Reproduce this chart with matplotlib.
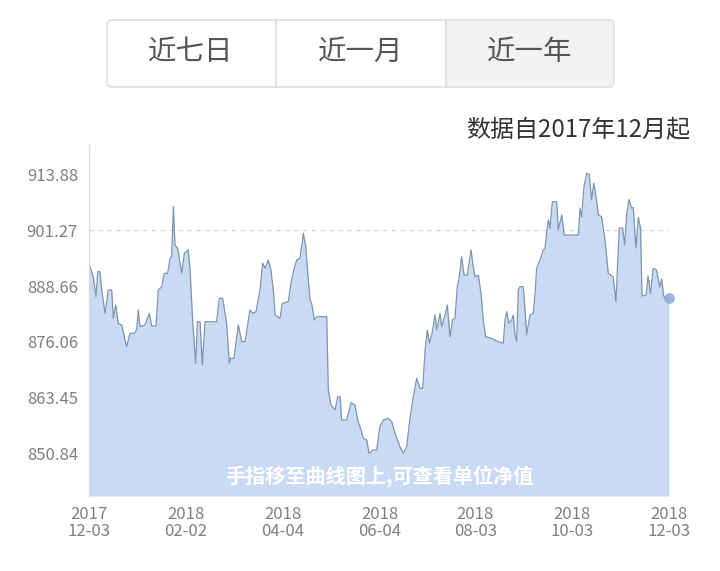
import numpy as np
import pandas as pd
import matplotlib
matplotlib.use("Agg")
import matplotlib.pyplot as plt
import matplotlib.dates as mdates
from matplotlib.patches import FancyBboxPatch, Rectangle

plt.rcParams['font.family'] = ['Noto Sans CJK SC', 'DejaVu Sans']

# ---- data: days since 2017-12-03 and unit NAV ----
start_date = "2017-12-03"
day_offsets = [0, 2.7, 4.4, 5.5, 6.9, 8.0, 10.1, 12.1, 14.3, 15.3, 16.8, 18.4, 20.6, 22.2, 23.7, 25.8,
               28.5, 30.0, 31.0, 32.1, 35.2, 37.9, 39.5, 42.2, 43.6, 45.8, 47.4, 49.5, 51.0, 52.0, 53.1,
               54.1, 55.8, 58.3, 60.0, 62.5, 63.6, 65.3, 67.1, 68.2, 69.9, 71.3, 73.0, 80.3, 82.0, 84.1,
               86.6, 88.3, 89.1, 91.2, 92.5, 94.0, 96.1, 98.2, 101.3, 103.0, 105.1, 107.6, 109.3, 110.8,
               112.8, 114.3, 116.0, 117.1, 120.2, 121.6, 125.4, 127.1, 128.6, 130.7, 132.8, 134.9, 136.4,
               138.0, 139.1, 140.1, 141.8, 143.3, 149.6, 150.6, 152.3, 154.8, 156.5, 158.0, 159.0, 162.2,
               164.9, 167.4, 169.1, 171.2, 172.6, 174.8, 176.2, 178.9, 181.0, 183.1, 185.2, 188.3, 190.5,
               192.6, 195.7, 197.8, 199.9, 202.0, 204.1, 206.2, 208.3, 210.0, 211.5, 212.9, 214.2, 215.7,
               217.8, 218.8, 220.9, 222.0, 224.0, 225.5, 227.2, 228.8, 230.3, 231.8, 233.0, 234.5, 236.0,
               238.1, 240.4, 241.8, 242.9, 245.0, 246.7, 248.1, 249.6, 253.4, 257.6, 260.7, 261.8, 262.9,
               264.3, 266.0, 267.0, 268.1, 269.1, 270.2, 271.2, 273.3, 274.4, 275.4, 277.5, 279.6, 280.7,
               281.7, 283.8, 285.9, 287.0, 288.0, 289.1, 290.1, 291.6, 294.3, 295.3, 297.5, 299.1, 307.9,
               309.0, 310.0, 311.5, 313.2, 314.8, 316.3, 317.6, 319.2, 320.5, 322.6, 324.7, 326.8, 329.9,
               331.6, 333.7, 335.8, 337.1, 338.4, 339.8, 341.5, 342.5, 344.2, 345.7, 347.1, 348.0, 350.6,
               351.8, 353.4, 355.0, 357.2, 359.2, 360.4, 361.6, 362.5, 365.0]
nav = [893.77, 890.75, 886.25, 891.88, 891.88, 887.76, 882.51, 887.76, 887.76, 881.39, 884.38, 880.26,
       879.88, 877.24, 874.99, 878.01, 878.01, 878.75, 883.26, 879.49, 879.88, 882.51, 879.65, 879.65,
       887.76, 888.50, 891.52, 891.52, 894.90, 895.26, 906.52, 897.89, 897.15, 891.52, 896.02, 896.77,
       892.26, 880.26, 871.25, 880.62, 880.62, 870.87, 880.62, 880.62, 885.89, 885.89, 880.26, 871.25,
       872.38, 872.38, 875.76, 879.88, 876.12, 876.12, 883.26, 882.51, 882.87, 887.76, 893.77, 892.65,
       894.51, 892.65, 887.76, 882.13, 881.39, 884.76, 885.12, 889.27, 891.88, 894.51, 894.90, 900.53,
       897.51, 890.01, 885.51, 884.76, 881.00, 881.75, 881.75, 865.24, 861.86, 860.74, 863.73, 863.73,
       858.49, 858.49, 862.38, 861.86, 858.49, 856.23, 854.37, 853.98, 850.99, 851.73, 851.73, 856.98,
       858.49, 858.87, 858.10, 855.49, 852.47, 850.99, 852.47, 858.87, 863.73, 867.88, 865.62, 865.62,
       874.25, 878.75, 875.76, 877.63, 882.13, 878.75, 882.51, 879.49, 882.13, 884.38, 877.24, 881.00,
       881.39, 888.50, 890.75, 895.26, 891.14, 891.14, 896.77, 893.01, 890.75, 891.14, 887.02, 881.00,
       877.24, 876.88, 876.12, 875.76, 881.00, 882.87, 880.26, 881.00, 882.13, 877.63, 876.12, 887.76,
       888.50, 888.50, 883.26, 877.63, 882.13, 882.51, 887.02, 892.65, 894.51, 896.77, 897.15, 900.89,
       903.52, 901.65, 907.64, 907.64, 901.27, 904.65, 900.14, 900.14, 906.16, 904.26, 911.02, 914.04,
       913.74, 908.03, 911.79, 908.59, 904.65, 904.26, 899.02, 891.52, 890.75, 885.12, 901.72, 901.72,
       897.89, 904.87, 908.14, 906.16, 906.34, 897.22, 904.08, 901.61, 886.41, 886.63, 890.91, 886.86,
       892.65, 892.26, 888.44, 890.24, 886.41, 886.18, 885.85]

y_ticks = [850.84, 863.45, 876.06, 888.66, 901.27, 913.88]
x_tick_dates = ["2017-12-03", "2018-02-02", "2018-04-04", "2018-06-04", "2018-08-03", "2018-10-03", "2018-12-03"]
tabs = ["近七日", "近一月", "近一年"]

dates = pd.Timestamp(start_date) + pd.to_timedelta(day_offsets, unit="D")
x_ticks = pd.to_datetime(x_tick_dates)

W, H = 720, 571
fig = plt.figure(figsize=(W / 100, H / 100), dpi=100)

def fx(px):
    return px / W

def fy(py):
    return 1 - py / H

# ---- top segmented buttons ----
box = FancyBboxPatch((fx(107), fy(87)), fx(614) - fx(107), fy(20) - fy(87),
                     boxstyle="round,pad=0,rounding_size=0.008", transform=fig.transFigure,
                     facecolor="white", edgecolor="#dedede", linewidth=1.2)
fig.patches.append(box)
sel = Rectangle((fx(446), fy(86)), fx(613) - fx(446), fy(21) - fy(86), transform=fig.transFigure,
                facecolor="#f2f2f2", edgecolor="none")
fig.patches.append(sel)
for xd in [276, 446]:
    fig.add_artist(plt.Line2D([fx(xd), fx(xd)], [fy(87), fy(20)], transform=fig.transFigure,
                              color="#dedede", linewidth=1.2))
for lab, cx in zip(tabs, [191, 361, 530]):
    fig.text(fx(cx), fy(52), lab, ha="center", va="center", fontsize=20.5, color="#555555")

fig.text(fx(690), fy(130), "数据自2017年12月起", ha="right", va="center", fontsize=17.3, color="#333333")

# ---- chart ----
ax = fig.add_axes([fx(89), fy(496), fx(669) - fx(89), fy(145) - fy(496)])
ymin, ymax = 841.38, 920.41
ax.set_ylim(ymin, ymax)
ax.set_xlim(dates[0], dates[-1])

ax.axhline(901.27, color="#d8d8d8", linewidth=0.8, linestyle=(0, (4, 4)), zorder=0)
ax.fill_between(dates, nav, ymin, color="#c9daf5", linewidth=0, zorder=1)
ax.plot(dates, nav, color="#8095ad", linewidth=0.9, zorder=2)
ax.scatter([dates[-1]], [nav[-1]], s=45, color="#8cacdc", alpha=0.85, zorder=3, clip_on=False)

ax.set_yticks(y_ticks)
ax.set_yticklabels([f"{v:.2f}" for v in y_ticks])
ax.set_xticks(x_ticks)
ax.set_xticklabels([d.strftime("%Y\n%m-%d") for d in x_ticks], linespacing=1.0)
ax.tick_params(axis="both", length=0, labelsize=12, colors="#808080")
ax.tick_params(axis="y", pad=8)
ax.tick_params(axis="x", pad=7)

for s in ["top", "right", "bottom"]:
    ax.spines[s].set_visible(False)
ax.spines["left"].set_color("#dddddd")
ax.spines["left"].set_linewidth(1.0)

ax.text(0.5, 0.055, "手指移至曲线图上,可查看单位净值", transform=ax.transAxes, ha="center",
        va="center", fontsize=14.5, color="white", fontweight="semibold", zorder=4)

fig.savefig("out.png", dpi=100, facecolor="white")
